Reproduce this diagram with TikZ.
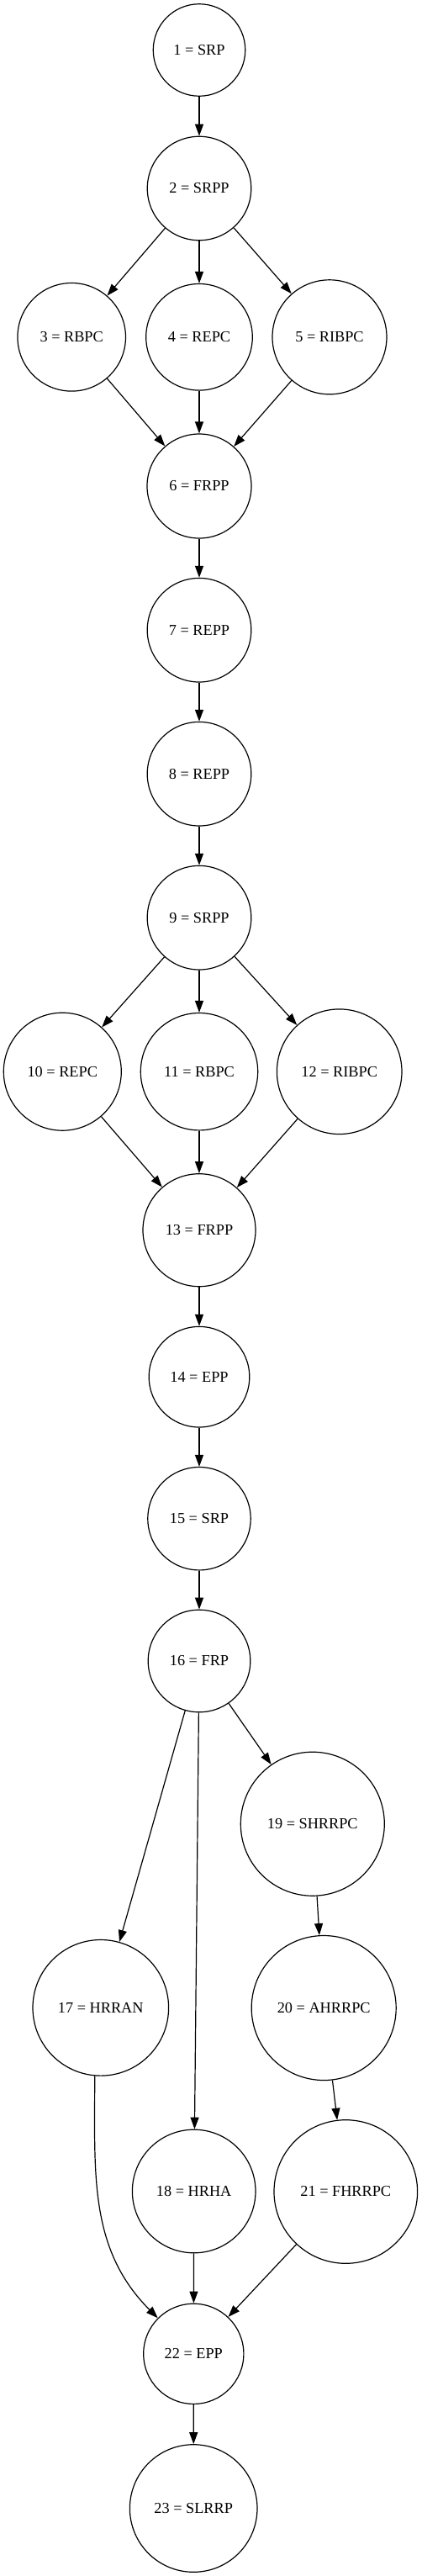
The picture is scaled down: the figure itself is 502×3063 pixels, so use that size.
\documentclass[tikz,border=0pt]{standalone}
\usepackage{fontspec}
\setmainfont{Liberation Serif}
\usetikzlibrary{arrows.meta}

\begin{document}
\begin{tikzpicture}[x=0.75pt,y=-0.75pt,
            stage/.style={draw,circle,line width=0.9pt,inner sep=0pt,minimum size=#1*0.75pt,
                node font=\fontsize{13.7}{16}\selectfont},
            flow/.style={line width=0.9pt,-{Triangle[length=10.5pt,width=7.5pt]}}]
            \useasboundingbox (0,0) rectangle (502,3063);

            \node[stage=109.5] (n1) at (237,59.5) {1 = SRP};
            \node[stage=123.5] (n2) at (237,224) {2 = SRPP};
            \node[stage=128.6] (n3) at (85.2,400.8) {3 = RBPC};
            \node[stage=126.6] (n4) at (237,400.8) {4 = REPC};
            \node[stage=136] (n5) at (392,400.8) {5 = RIBPC};
            \node[stage=124] (n6) at (237,578) {6 = FRPP};
            \node[stage=123.6] (n7) at (237,749.2) {7 = REPP};
            \node[stage=123.6] (n8) at (237,920.2) {8 = REPP};
            \node[stage=123.6] (n9) at (237,1091.2) {9 = SRPP};
            \node[stage=140] (n10) at (74.3,1274.2) {10 = REPC};
            \node[stage=139.4] (n11) at (237,1274.2) {11 = RBPC};
            \node[stage=148.6] (n12) at (403.7,1274.2) {12 = RIBPC};
            \node[stage=134] (n13) at (237,1462.7) {13 = FRPP};
            \node[stage=119.6] (n14) at (237,1637.2) {14 = EPP};
            \node[stage=122.4] (n15) at (237,1805.7) {15 = SRP};
            \node[stage=121.6] (n16) at (237,1975) {16 = FRP};
            \node[stage=161.6] (n17) at (119.8,2387.3) {17 = HRRAN};
            \node[stage=146.6] (n18) at (230.7,2605.5) {18 = HRHA};
            \node[stage=171] (n19) at (371.8,2168.7) {19 = SHRRPC};
            \node[stage=172] (n20) at (385.2,2387.5) {20 = AHRRPC};
            \node[stage=170.6] (n21) at (411.3,2606) {21 = FHRRPC};
            \node[stage=119.2] (n22) at (230.3,2798.8) {22 = EPP};
            \node[stage=151.6] (n23) at (230.2,2982.5) {23 = SLRRP};

            \foreach \a/\b in {1/2,2/3,2/4,2/5,3/6,4/6,5/6,6/7,7/8,8/9,9/10,9/11,9/12,10/13,11/13,12/13,
                13/14,14/15,15/16,16/17,16/18,16/19,19/20,20/21,18/22,21/22,22/23}{
                \draw[flow] (n\a)--(n\b);
            }
            \draw[flow] (n17.265) to[out=-90,in=135] (n22);
        \end{tikzpicture}
\end{document}
